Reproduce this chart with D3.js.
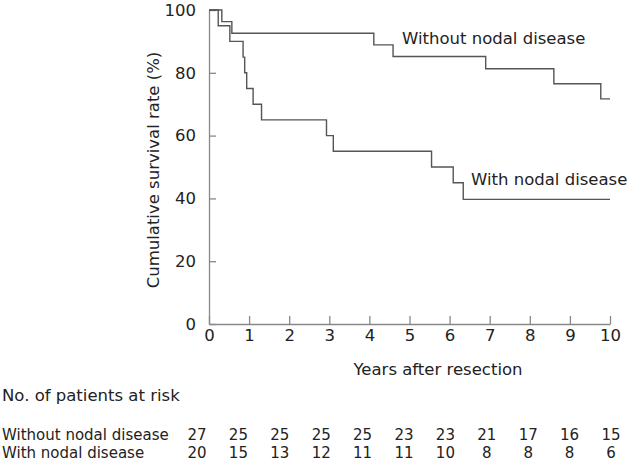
<!DOCTYPE html>
<html><head><meta charset="utf-8">
<script src="https://cdn.jsdelivr.net/npm/d3@7"></script>
<style>
body{margin:0;background:#fff;}
svg{display:block;font-family:"DejaVu Sans",Verdana,sans-serif;}
</style></head>
<body><svg id="c" width="630" height="463"></svg>
<script>
// Kaplan-Meier step data (time in years, survival %)
const withoutTimes = [0, 0.32, 0.57, 4.11, 4.59, 6.9, 8.6, 9.77, 10];
const withoutSurv  = [100, 96.3, 92.6, 88.9, 85.2, 81.3, 76.5, 71.7, 71.7];
const withTimes = [0, 0.23, 0.52, 0.85, 0.89, 0.94, 1.1, 1.31, 2.93, 3.1, 5.55, 6.09, 6.34, 10];
const withSurv  = [100, 95, 90, 85, 80, 75, 70, 65, 60, 55, 50, 45, 39.7, 39.7];
const xTicks = [0,1,2,3,4,5,6,7,8,9,10];
const yTicks = [0,20,40,60,80,100];
const riskYears = [0,1,2,3,4,5,6,7,8,9,10];
const riskWithout = [27,25,25,25,25,23,23,21,17,16,15];
const riskWith = [20,15,13,12,11,11,10,8,8,8,6];
const groupNames = ["Without nodal disease","With nodal disease"];

const svg = d3.select("#c");
const fs = 16.5;
const tfs = 15;
const textColor = "#222";
const lineColor = "#555";
const axisColor = "#888";

const x = d3.scaleLinear().domain([0,10]).range([209,610]);
const y = d3.scaleLinear().domain([0,100]).range([324,10]);

// axes
const xa = svg.append("g").attr("transform",`translate(0,${y(0)})`)
  .call(d3.axisBottom(x).tickValues(xTicks).tickSizeInner(-8).tickSizeOuter(0).tickPadding(5.3).tickFormat(d3.format("d")));
const ya = svg.append("g").attr("transform",`translate(${x(0)},0)`)
  .call(d3.axisLeft(y).tickValues(yTicks).tickSizeInner(-7).tickSizeOuter(0).tickPadding(13));
[xa,ya].forEach(g=>{
  g.selectAll("path,line").attr("stroke",axisColor).attr("stroke-width",1.3);
  g.selectAll("text").attr("fill",textColor).style("font-size",fs+"px").style("font-family","DejaVu Sans");
});

// curves
const line = d3.line().curve(d3.curveStepAfter).x(d=>x(d[0])).y(d=>y(d[1]));
[[withoutTimes,withoutSurv],[withTimes,withSurv]].forEach(([t,s])=>{
  svg.append("path").datum(t.map((v,i)=>[v,s[i]]))
    .attr("d",line).attr("fill","none").attr("stroke",lineColor).attr("stroke-width",1.4);
});

// curve labels
svg.append("text").attr("x",402).attr("y",44).text(groupNames[0])
  .attr("fill",textColor).style("font-size",fs+"px");
svg.append("text").attr("x",471).attr("y",185).text(groupNames[1])
  .attr("fill",textColor).style("font-size",fs+"px");

// axis titles
svg.append("text").attr("transform","translate(159,170) rotate(-90)").attr("text-anchor","middle")
  .text("Cumulative survival rate (%)").attr("fill",textColor).style("font-size",fs+"px");
svg.append("text").attr("x",438).attr("y",375).attr("text-anchor","middle")
  .text("Years after resection").attr("fill",textColor).style("font-size",fs+"px");

// risk table
svg.append("text").attr("x",2).attr("y",401).text("No. of patients at risk")
  .attr("fill",textColor).style("font-size",fs+"px");
const rx = d3.scaleLinear().domain([0,10]).range([197,611]);
[[riskWithout,440],[riskWith,458]].forEach(([vals,yy],k)=>{
  svg.append("text").attr("x",2).attr("y",yy).text(groupNames[k])
    .attr("fill",textColor).style("font-size",tfs+"px");
  svg.selectAll(null).data(vals).enter().append("text")
    .attr("x",(d,i)=>rx(riskYears[i])).attr("y",yy).attr("text-anchor","middle")
    .text(d=>d).attr("fill",textColor).style("font-size",tfs+"px");
});
</script></body></html>
